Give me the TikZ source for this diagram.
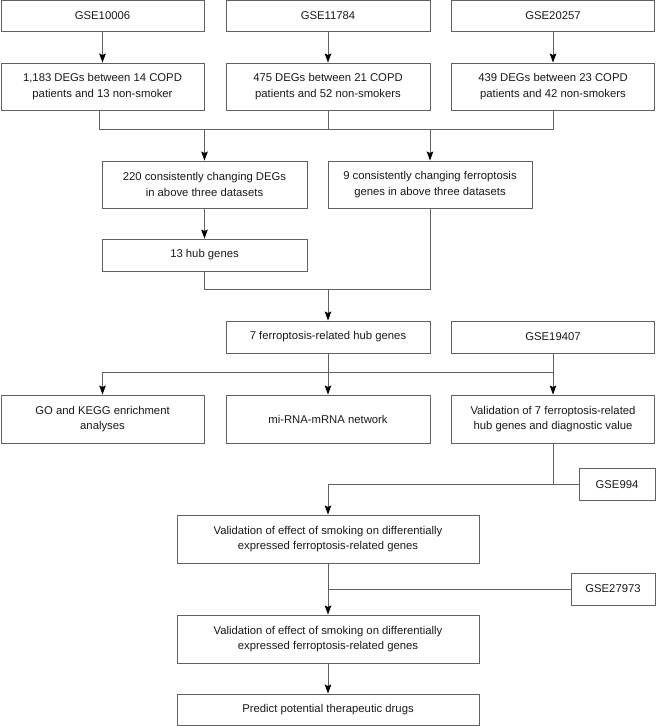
\documentclass[tikz,border=0pt]{standalone}
\usepackage{fontspec}
\setmainfont{Liberation Sans}
\usetikzlibrary{arrows.meta}
\begin{document}
\begin{tikzpicture}[x=1pt,y=-1pt,
  box/.style={draw=black!62, line width=0.9pt, align=center, inner sep=0pt,
    font=\fontsize{11.3}{15.5}\selectfont, text=black!90},
  conn/.style={draw=black!62, line width=0.9pt},
  arr/.style={conn, -{Stealth[length=9pt,width=6.5pt,inset=1.5pt,color=black]}}]
\useasboundingbox (0,0) rectangle (656,726);
% row 1
\node[box, minimum width=203pt, minimum height=31pt] (a1) at (102.5,16) {GSE10006};
\node[box, minimum width=204pt, minimum height=31pt] (a2) at (328,16) {GSE11784};
\node[box, minimum width=203pt, minimum height=31pt] (a3) at (553,16) {GSE20257};
% row 2
\node[box, minimum width=203pt, minimum height=47pt] (b1) at (102.5,86.5) {1,183 DEGs between 14 COPD\\patients and 13 non-smoker};
\node[box, minimum width=204pt, minimum height=47pt] (b2) at (328,86.5) {475 DEGs between 21 COPD\\patients and 52 non-smokers};
\node[box, minimum width=203pt, minimum height=47pt] (b3) at (553,86.5) {439 DEGs between 23 COPD\\patients and 42 non-smokers};
% row 3
\node[box, minimum width=205pt, minimum height=47pt] (c1) at (204.5,184.5) {220 consistently changing DEGs\\in above three datasets};
\node[box, minimum width=204pt, minimum height=47pt] (c2) at (430,184.5) {9 consistently changing ferroptosis\\genes in above three datasets};
\node[box, minimum width=205pt, minimum height=32pt] (d) at (204.5,255) {13 hub genes};
% row 5
\node[box, minimum width=204pt, minimum height=32pt] (e1) at (328,337) {7 ferroptosis-related hub genes};
\node[box, minimum width=203pt, minimum height=32pt] (e2) at (553,337) {GSE19407};
% row 6
\node[box, minimum width=203pt, minimum height=48pt] (f1) at (102.5,419) {GO and KEGG enrichment\\analyses};
\node[box, minimum width=204pt, minimum height=48pt] (f2) at (328,419) {mi-RNA-mRNA network};
\node[box, minimum width=203pt, minimum height=48pt] (f3) at (553,419) {Validation of 7 ferroptosis-related\\hub genes and diagnostic value};
% lower part
\node[box, minimum width=76pt, minimum height=32pt] (g994) at (617,484.5) {GSE994};
\node[box, minimum width=302pt, minimum height=48pt] (g1) at (328,539) {Validation of effect of smoking on differentially\\expressed ferroptosis-related genes};
\node[box, minimum width=84pt, minimum height=32pt] (g27) at (613,589) {GSE27973};
\node[box, minimum width=302pt, minimum height=48pt] (g2) at (328,639) {Validation of effect of smoking on differentially\\expressed ferroptosis-related genes};
\node[box, minimum width=302pt, minimum height=31pt] (g3) at (328,709.5) {Predict potential therapeutic drugs};
% helper rows
\coordinate (bus1) at (0,129);
\coordinate (j2) at (0,289);
\coordinate (bus2) at (0,372);
% connectors
\draw[arr] (a1.south) -- (b1.north);
\draw[arr] (a2.south) -- (b2.north);
\draw[arr] (a3.south) -- (b3.north);
\draw[conn] ([xshift=-3.5pt]b1.south) |- (b3.south |- bus1) -- (b3.south);
\draw[conn] (b2.south) -- (b2.south |- bus1);
\draw[arr] (c1.north |- bus1) -- (c1.north);
\draw[arr] (c2.north |- bus1) -- (c2.north);
\draw[arr] (c1.south) -- (d.north);
\draw[conn] (d.south) |- (c2.south |- j2) -- (c2.south);
\draw[arr] (e1.north |- j2) -- (e1.north);
\draw[conn] (e1.south) -- (e1.south |- bus2);
\draw[conn] (e2.south) -- (e2.south |- bus2);
\draw[conn] (f1.north |- bus2) -- (f3.north |- bus2);
\draw[arr] (f1.north |- bus2) -- (f1.north);
\draw[arr] (f2.north |- bus2) -- (f2.north);
\draw[arr] (f3.north |- bus2) -- (f3.north);
\draw[conn] (f3.south) -- (f3.south |- g994.west);
\draw[conn] (g994.west) -- (g1.north |- g994.west);
\draw[arr] (g1.north |- g994.west) -- (g1.north);
\draw[arr] (g1.south) -- (g2.north);
\draw[conn] (g27.west) -- (g1.south |- g27.west);
\draw[arr] (g2.south) -- (g3.north);
\end{tikzpicture}
\end{document}
